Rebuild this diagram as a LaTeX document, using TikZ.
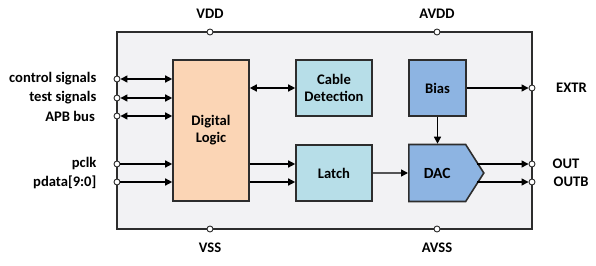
\documentclass[tikz,border=0pt]{standalone}
\usepackage{fontspec}
\setmainfont{Carlito}
\usepackage{xcolor}
\usepackage{tikz}
\usetikzlibrary{positioning,arrows.meta,shapes.symbols,calc}
\definecolor{chipfill}{RGB}{242,242,244}
\definecolor{edgegray}{RGB}{45,45,45}
\definecolor{logicfill}{RGB}{251,213,181}
\definecolor{digfill}{RGB}{183,222,232}
\definecolor{anafill}{RGB}{141,180,226}
\newcommand{\lblfont}{\bfseries\fontsize{14.6}{17}\selectfont}
\tikzset{
  chip/.style  ={rectangle, draw=edgegray, fill=chipfill, line width=1.1pt},
  logicblk/.style={rectangle, draw=edgegray, fill=logicfill, line width=1.6pt,
                minimum width=76pt, minimum height=141pt, align=center, font=\lblfont},
  digblk/.style={rectangle, draw=edgegray, fill=digfill, line width=1.6pt,
                minimum width=76pt, minimum height=56pt, align=center, font=\lblfont},
  anablk/.style={rectangle, draw=edgegray, fill=anafill, line width=1.6pt,
                minimum width=57pt, minimum height=56pt, align=center, font=\lblfont},
  dacblk/.style={signal, signal to=east, signal pointer angle=115, draw=edgegray,
                fill=anafill, line width=1.6pt, minimum width=75pt, minimum height=57pt,
                font=\bfseries\fontsize{15.5}{18}\selectfont},
  pin/.style   ={circle, draw=edgegray, fill=white, line width=0.9pt,
                inner sep=0pt, minimum size=6pt},
  sig/.style   ={inner sep=0pt, font=\lblfont},
  flow/.style  ={-{Triangle[length=7pt,width=7pt]}, line width=1.4pt},
  bflow/.style ={{Triangle[length=7pt,width=7pt]}-{Triangle[length=7pt,width=7pt]}, line width=1.4pt},
}
\begin{document}
\begin{tikzpicture}[x=1pt, y=1pt]
  \useasboundingbox (0,0) rectangle (596,265);
  \node[chip, minimum width=415pt, minimum height=197pt] (chip) at (324.5,134.5) {};
  \node[logicblk] (logic) at (211,134.5) {Digital\\Logic};
  \node[digblk]   (cable) at (334,177)   {Cable\\Detection};
  \node[digblk]   (latch) at (334,92)    {Latch};
  \node[anablk]   (bias)  at (437.5,177) {Bias};
  \node[dacblk, anchor=west] (dac) at (408,92) {DAC};

  \node[pin] (vdd)  at (210,233) {};  \node[pin] (avdd) at (437,233) {};
  \node[pin] (vss)  at (210,36)  {};  \node[pin] (avss) at (437,36)  {};
  \node[pin] (ctrl) at (117,186) {};  \node[pin] (test) at (117,167) {};
  \node[pin] (apb)  at (117,149) {};  \node[pin] (pclk) at (117,101) {};
  \node[pin] (pdata) at (117,83) {};
  \node[pin] (extr) at (532,177) {};  \node[pin] (outp) at (532,101) {};
  \node[pin] (outn) at (532,83)  {};

  \node[sig, above=9.5pt of vdd]  {VDD};
  \node[sig, above=9.5pt of avdd] {AVDD};
  \node[sig, below=10pt of vss]   {VSS};
  \node[sig, below=10pt of avss]  {AVSS};
  \node[sig, left=17pt of ctrl]   {control signals};
  \node[sig, left=17pt of test]   {test signals};
  \node[sig, left=18.5pt of apb]  {APB bus};
  \node[sig, left=17pt of pclk]   {pclk};
  \node[sig, left=17pt of pdata]  {pdata[9:0]};
  \node[sig, right=20.5pt of extr] {EXTR};
  \node[sig, right=17pt of outp]  {OUT};
  \node[sig, right=18pt of outn]  {OUTB};

  \draw[bflow] (ctrl)--(logic.west |- ctrl); \draw[bflow] (test)--(logic.west |- test);
  \draw[bflow] (apb)--(logic.west |- apb);
  \draw[flow] (pclk)--(logic.west |- pclk); \draw[flow] (pdata)--(logic.west |- pdata);
  \draw[bflow] (logic.east |- cable)--(cable);
  \draw[flow] (logic.east |- pclk)--(latch.west |- pclk);
  \draw[flow] (logic.east |- pdata)--(latch.west |- pdata);
  \draw[flow] (latch)--(dac); \draw[flow] (bias)--(bias.south |- dac.north);
  \draw[flow] (bias)--(extr);
  \draw[flow] (dac.16 |- outp)--(outp); \draw[flow] (dac.-16 |- outn)--(outn);
\end{tikzpicture}
\end{document}
